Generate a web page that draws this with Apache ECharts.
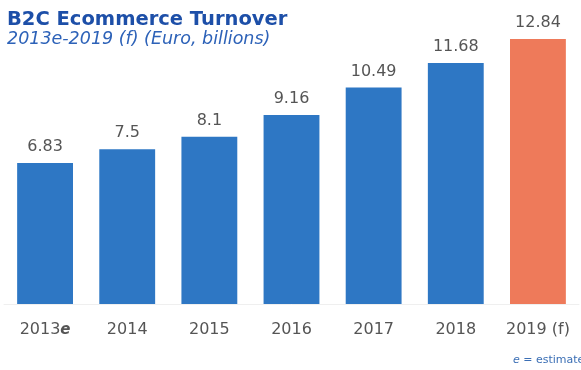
<!DOCTYPE html>
<html>
<head>
<meta charset="utf-8">
<script src="https://cdn.jsdelivr.net/npm/echarts@6/dist/echarts.min.js"></script>
<style>
  html, body { margin: 0; padding: 0; background: #ffffff; }
  #chart { width: 581px; height: 370px; }
</style>
</head>
<body>
<div id="chart"></div>
<script>
// Yearly B2C ecommerce turnover, euro billions
const years = ['2013', '2014', '2015', '2016', '2017', '2018', '2019 (f)'];
const turnover = [6.83, 7.5, 8.1, 9.16, 10.49, 11.68, 12.84];
const forecastIndex = 6;

const BLUE = '#2e77c4';
const ORANGE = '#ee7a5a';
const FONT = '"DejaVu Sans", sans-serif';

const chart = echarts.init(document.getElementById('chart'), null, { renderer: 'canvas' });

chart.setOption({
  animation: false,
  backgroundColor: '#ffffff',
  title: {
    text: 'B2C Ecommerce Turnover',
    subtext: '2013e-2019 (f) (Euro, billions)',
    left: 2,
    top: 5,
    itemGap: 0,
    textStyle: { fontFamily: FONT, fontWeight: 'bold', fontSize: 19.5, color: '#1d4fa8' },
    subtextStyle: { fontFamily: FONT, fontStyle: 'italic', fontSize: 17.5, color: '#2d62b8' }
  },
  grid: { left: 4, right: 2, top: 15, bottom: 66, containLabel: false },
  xAxis: {
    type: 'category',
    data: years,
    axisLine: { show: true, lineStyle: { color: '#efefef', width: 1 } },
    axisTick: { show: false },
    axisLabel: {
      interval: 0,
      margin: 18,
      fontFamily: FONT,
      fontSize: 16,
      color: '#555555',
      formatter: function (v, i) {
        return i === 0 ? v + '{e|e}' : v;
      },
      rich: {
        e: { fontFamily: FONT, fontSize: 15, fontStyle: 'italic', fontWeight: 'bold', color: '#555555' }
      }
    }
  },
  yAxis: {
    type: 'value',
    min: 0,
    max: 14,
    show: false,
    splitLine: { show: false }
  },
  series: [{
    type: 'bar',
    barWidth: '68%',
    data: turnover.map((v, i) => ({
      value: v,
      itemStyle: { color: i === forecastIndex ? ORANGE : BLUE }
    })),
    label: {
      show: true,
      position: 'top',
      distance: 8,
      fontFamily: FONT,
      fontSize: 16,
      color: '#555555',
      formatter: p => String(p.value)
    }
  }],
  graphic: [{
    type: 'text',
    left: 513,
    top: 355,
    style: {
      text: '{i|e} = estimated',
      rich: {
        i: { fontFamily: FONT, fontSize: 11, fontStyle: 'italic', fill: '#3b6fb5' }
      },
      fontFamily: FONT,
      fontSize: 11,
      fill: '#3b6fb5'
    }
  }]
});
</script>
</body>
</html>
